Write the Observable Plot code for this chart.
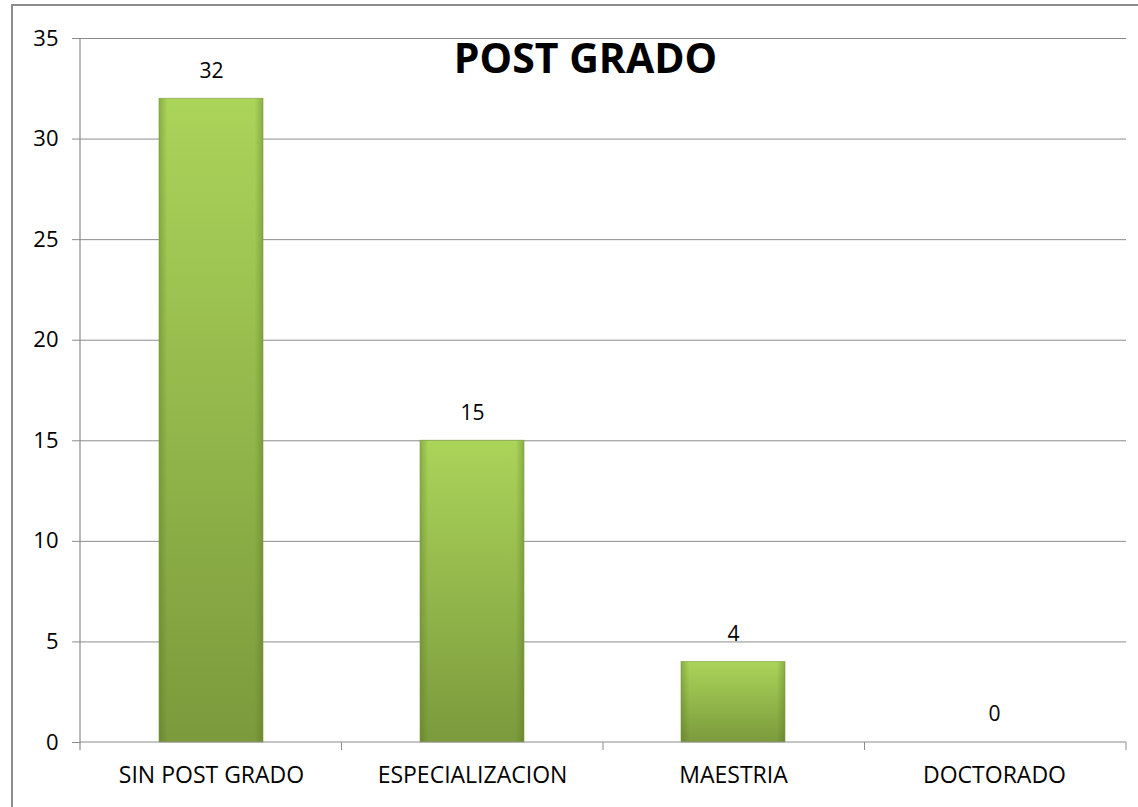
<!DOCTYPE html>
<html>
<head>
<meta charset="utf-8">
<script src="https://cdn.jsdelivr.net/npm/d3@7"></script>
<script src="https://cdn.jsdelivr.net/npm/@observablehq/plot@0.6"></script>
<style>
  html, body { margin: 0; padding: 0; background: #fff; }
  #chart { position: relative; width: 1138px; height: 807px; }
</style>
</head>
<body>
<div id="chart"></div>
<script>
const title = "POST GRADO";
const categories = ["SIN POST GRADO", "ESPECIALIZACION", "MAESTRIA", "DOCTORADO"];
const values = [32, 15, 4, 0];
const yTicks = [0, 5, 10, 15, 20, 25, 30, 35];

const data = categories.map((c, i) => ({category: c, value: values[i]}));

const W = 1138, H = 807, ML = 80, MR = 12, MT = 38, MB = 65;

// decoration: gradients, axis line, category boundary ticks, outer border
function decorations(index, scales, vals, dims) {
  const g = d3.create("svg:g");
  const defs = g.append("defs");
  const vg = defs.append("linearGradient").attr("id", "barGrad")
    .attr("x1", 0).attr("y1", 0).attr("x2", 0).attr("y2", 1);
  vg.append("stop").attr("offset", "0%").attr("stop-color", "#abd45a");
  vg.append("stop").attr("offset", "100%").attr("stop-color", "#7b9a3c");
  const hg = defs.append("linearGradient").attr("id", "sideGrad")
    .attr("x1", 0).attr("y1", 0).attr("x2", 1).attr("y2", 0);
  hg.append("stop").attr("offset", "0%").attr("stop-color", "#4a6a1a").attr("stop-opacity", 0.35);
  hg.append("stop").attr("offset", "8%").attr("stop-color", "#4a6a1a").attr("stop-opacity", 0.0);
  hg.append("stop").attr("offset", "92%").attr("stop-color", "#4a6a1a").attr("stop-opacity", 0.0);
  hg.append("stop").attr("offset", "100%").attr("stop-color", "#4a6a1a").attr("stop-opacity", 0.35);

  const {width, height, marginLeft, marginRight, marginTop, marginBottom} = dims;
  const x0 = marginLeft, x1 = width - marginRight;
  const yb = height - marginBottom;
  const n = categories.length;
  const step = (x1 - x0) / n;
  g.append("line").attr("x1", x0).attr("x2", x1).attr("y1", yb).attr("y2", yb)
    .attr("stroke", "#8c8c8c").attr("stroke-width", 1.2);
  g.append("line").attr("x1", x0).attr("x2", x0).attr("y1", marginTop).attr("y2", yb + 8)
    .attr("stroke", "#8c8c8c").attr("stroke-width", 1.2);
  for (let i = 1; i <= n; i++) {
    const x = x0 + i * step;
    g.append("line").attr("x1", x).attr("x2", x).attr("y1", yb).attr("y2", yb + 8)
      .attr("stroke", "#8c8c8c").attr("stroke-width", 1);
  }
  g.append("rect").attr("x", 12).attr("y", 5).attr("width", width - 8).attr("height", height + 10)
    .attr("fill", "none").attr("stroke", "#8c8c8c").attr("stroke-width", 2);
  return g.node();
}

const chart = Plot.plot({
  width: W,
  height: H,
  marginLeft: ML,
  marginRight: MR,
  marginTop: MT,
  marginBottom: MB,
  style: {fontFamily: "'Open Sans', sans-serif", fontSize: "21px", color: "#000", background: "#fff"},
  x: {domain: categories, paddingInner: 0.6, paddingOuter: 0.3, label: null},
  y: {domain: [0, 35], label: null},
  marks: [
    Plot.ruleY(yTicks.filter(d => d > 0), {stroke: "#8c8c8c", strokeWidth: 1, strokeOpacity: 1}),
    Plot.barY(data, {x: "category", y: "value", fill: "url(#barGrad)"}),
    Plot.barY(data, {x: "category", y: "value", fill: "url(#sideGrad)", stroke: "#7a9a3a", strokeWidth: 1, strokeOpacity: 0.6}),
    Plot.text(data, {x: "category", y: "value", text: d => String(d.value), dy: -28, fontSize: 21, fill: "#000"}),
    Plot.axisY({ticks: yTicks, tickSize: 8, tickPadding: 14, stroke: "#8c8c8c", fontSize: 22, tickFormat: d => String(d)}),
    Plot.axisX({tickSize: 0, tickPadding: 24, fontSize: 23, label: null}),
    Plot.text([title], {frameAnchor: "top", dx: -18, dy: 5, lineAnchor: "top", fontSize: 41, fontWeight: "bold", fill: "#000"}),
    decorations
  ]
});

document.getElementById("chart").appendChild(chart);
</script>
</body>
</html>
